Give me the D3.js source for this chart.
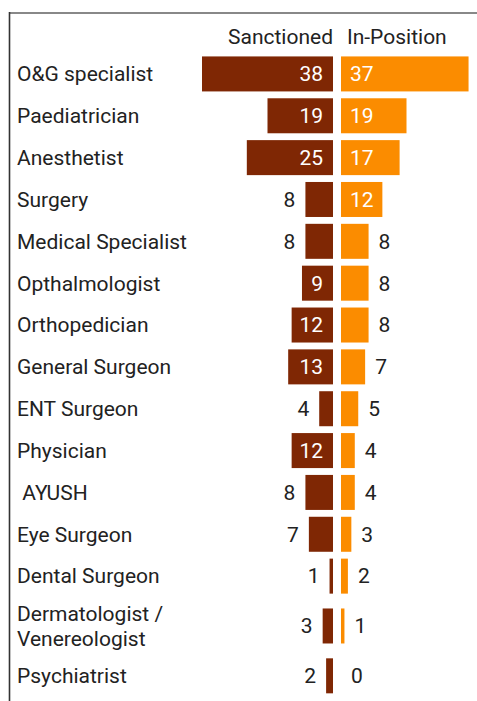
<!DOCTYPE html>
<html>
<head>
<meta charset="utf-8">
<script src="https://cdn.jsdelivr.net/npm/d3@7"></script>
<style>
  html, body { margin: 0; padding: 0; background: #fff; }
  svg { display: block; font-family: Roboto, "Noto Sans", sans-serif; }
</style>
</head>
<body>
<div id="chart"></div>
<script>
// Specialist posts: sanctioned vs in-position
const categories = [
    'O&G specialist', 'Paediatrician', 'Anesthetist', 'Surgery', 'Medical Specialist',
    'Opthalmologist', 'Orthopedician', 'General Surgeon', 'ENT Surgeon', 'Physician',
    ' AYUSH', 'Eye Surgeon', 'Dental Surgeon', 'Dermatologist /\nVenereologist', 'Psychiatrist'
];
const sanctioned = [38, 19, 25, 8, 8, 9, 12, 13, 4, 12, 8, 7, 1, 3, 2];
const inPosition = [37, 19, 17, 12, 8, 8, 8, 7, 5, 4, 4, 3, 2, 1, 0];
const headers = ['Sanctioned', 'In-Position'];

const width = 477, height = 701;
const colors = { sanctioned: '#7f2704', inPosition: '#fb8c00' };
const rowH = 41.85, lineH = 16, barH = 35;
const chartTop = 53;
const midLeft = 333, midRight = 341;
const fontSize = 21;

const svg = d3.select('#chart')
    .append('svg')
    .attr('width', width)
    .attr('height', height);

// Frame lines
svg.append('line')
    .attr('x1', 9).attr('x2', width).attr('y1', 13).attr('y2', 13)
    .attr('stroke', '#888').attr('stroke-width', 2);
svg.append('line')
    .attr('x1', 9.5).attr('x2', 9.5).attr('y1', 12).attr('y2', height)
    .attr('stroke', '#333').attr('stroke-width', 1.6);

// Row offsets: two-line labels take a taller row
const rows = categories.map(c => c.split('\n'));
const offsets = [];
let acc = chartTop;
rows.forEach(lines => {
    const h = rowH + (lines.length - 1) * lineH;
    offsets.push(acc + h / 2);
    acc += h;
});
const y = d3.scaleOrdinal().domain(categories).range(offsets);

const maxVal = 38;
const xL = d3.scaleLinear().domain([0, maxVal]).range([midLeft, midLeft - 131]);
const xR = d3.scaleLinear().domain([0, maxVal]).range([midRight, midRight + 131]);

// Headers
svg.append('text')
    .attr('x', midLeft).attr('y', 44)
    .attr('text-anchor', 'end')
    .attr('font-size', fontSize).attr('fill', '#222')
    .text(headers[0]);
svg.append('text')
    .attr('x', midRight + 6).attr('y', 44)
    .attr('text-anchor', 'start')
    .attr('font-size', fontSize).attr('fill', '#222')
    .text(headers[1]);

const data = categories.map((c, i) => ({ cat: c, lines: rows[i], s: sanctioned[i], p: inPosition[i] }));

const row = svg.append('g')
    .selectAll('g')
    .data(data)
    .join('g')
    .attr('transform', d => `translate(0,${y(d.cat)})`);

// Category labels
row.append('text')
    .attr('x', 17)
    .attr('font-size', fontSize)
    .attr('fill', '#222')
    .style('white-space', 'pre')
    .each(function (d) {
        const t = d3.select(this);
        const n = d.lines.length;
        d.lines.forEach((l, k) => {
            t.append('tspan')
                .attr('x', 17)
                .attr('y', (k - (n - 1) / 2) * 24.5)
                .attr('dy', '0.35em')
                .text(l);
        });
    });

// Sanctioned bars
row.append('rect')
    .attr('x', d => xL(d.s))
    .attr('y', -barH / 2)
    .attr('width', d => xL(0) - xL(d.s))
    .attr('height', barH)
    .attr('fill', colors.sanctioned);

// In-Position bars
row.append('rect')
    .attr('x', xR(0))
    .attr('y', -barH / 2)
    .attr('width', d => xR(d.p) - xR(0))
    .attr('height', barH)
    .attr('fill', colors.inPosition);

// Value labels: inside the bar when it fits, outside otherwise
const fits = (v) => (v * 131 / maxVal) >= String(v).length * 11 + 19;

row.append('text')
    .attr('x', d => fits(d.s) ? xL(0) - 10 : xL(d.s) - 10)
    .attr('dy', '0.35em')
    .attr('text-anchor', 'end')
    .attr('font-size', fontSize)
    .attr('fill', d => fits(d.s) ? '#fff' : '#222')
    .text(d => d.s);

row.append('text')
    .attr('x', d => fits(d.p) ? xR(0) + 9 : xR(d.p) + 10)
    .attr('dy', '0.35em')
    .attr('text-anchor', 'start')
    .attr('font-size', fontSize)
    .attr('fill', d => fits(d.p) ? '#fff' : '#222')
    .text(d => d.p);
</script>
</body>
</html>
